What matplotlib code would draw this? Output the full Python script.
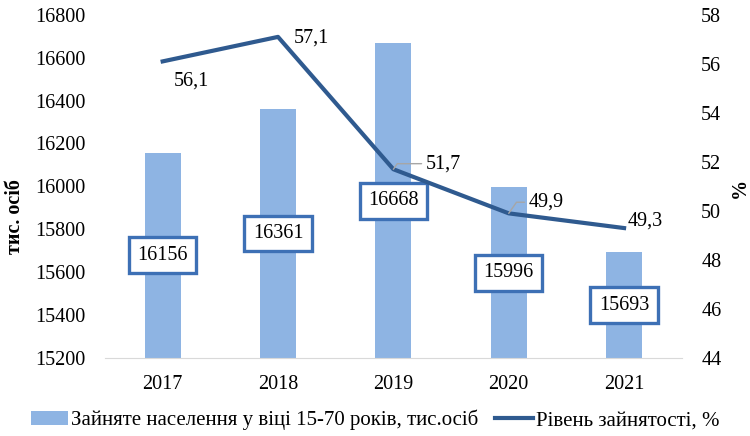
import matplotlib.pyplot as plt
import numpy as np

plt.rcParams['font.family'] = ['Liberation Serif', 'DejaVu Serif']

years = ['2017', '2018', '2019', '2020', '2021']
employed = [16156, 16361, 16668, 15996, 15693]
rate = [56.1, 57.1, 51.7, 49.9, 49.3]

bar_color = '#8EB4E3'
line_color = '#2F5A8F'
box_color = '#3D70B5'
fs = 14.5

fig = plt.figure(figsize=(7.5, 4.36), dpi=100)
ax = fig.add_axes([0.14, 0.179, 0.769, 0.787])
ax2 = ax.twinx()

x = np.arange(len(years))
bars = ax.bar(x, employed, width=0.31, color=bar_color,
              label='Зайняте населення у віці 15-70 років, тис.осіб', zorder=1)
ax.set_ylim(15200, 16800)
ax.set_yticks(np.arange(15200, 16801, 200))
ax.set_xlim(-0.5, len(years) - 0.5)
ax.set_xticks(x)
ax.set_xticklabels(years)
ax.tick_params(axis='y', length=0, labelsize=fs, pad=14)
ax.tick_params(axis='x', length=0, labelsize=fs, pad=12)

for xi, v in zip(x, employed):
    ax.text(xi, (15200 + v) / 2, str(v), ha='center', va='center', fontsize=fs, zorder=5,
            bbox=dict(boxstyle='square,pad=0.42', fc='white', ec=box_color, lw=2.4))

line, = ax2.plot(x, rate, color=line_color, lw=3, label='Рівень зайнятості, %', zorder=3)
ax2.set_ylim(44, 58)
ax2.set_yticks(np.arange(44, 59, 2))
ax2.tick_params(axis='y', length=0, labelsize=fs, pad=14)

# offsets of the data labels in points
offsets = [(21, -14), (24, -1), (36, 4), (27, 8), (15, 5)]
for xi, v, off in zip(x, rate, offsets):
    label = f'{v:.1f}'.replace('.', ',')
    if xi in (2, 3):
        ax2.annotate(label, (xi, v), xytext=off, textcoords='offset points', fontsize=fs,
                     ha='center', va='center',
                     arrowprops=dict(arrowstyle='-', color='#A6A6A6', lw=1,
                                     connectionstyle='angle,angleA=0,angleB=55,rad=0',
                                     shrinkA=1, shrinkB=0))
    else:
        ax2.annotate(label, (xi, v), xytext=off, textcoords='offset points', fontsize=fs,
                     ha='center', va='center')

for a in (ax, ax2):
    for s in a.spines.values():
        s.set_visible(False)
ax.spines['bottom'].set_visible(True)
ax.spines['bottom'].set_color('#D9D9D9')

fig.text(15 / 750, 1 - 217 / 436, 'тис. осіб', rotation=90, ha='center', va='center',
         fontsize=fs, fontweight='bold')
fig.text(740 / 750, 1 - 188 / 436, '%', rotation=90, ha='center', va='center',
         fontsize=fs, fontweight='bold')

fig.legend(handles=[bars, line], loc='lower center', bbox_to_anchor=(0.5, -0.03), ncol=2,
           frameon=False, fontsize=15, handlelength=1.8, handletextpad=0.15, columnspacing=0.8)

fig.savefig('out.png')
